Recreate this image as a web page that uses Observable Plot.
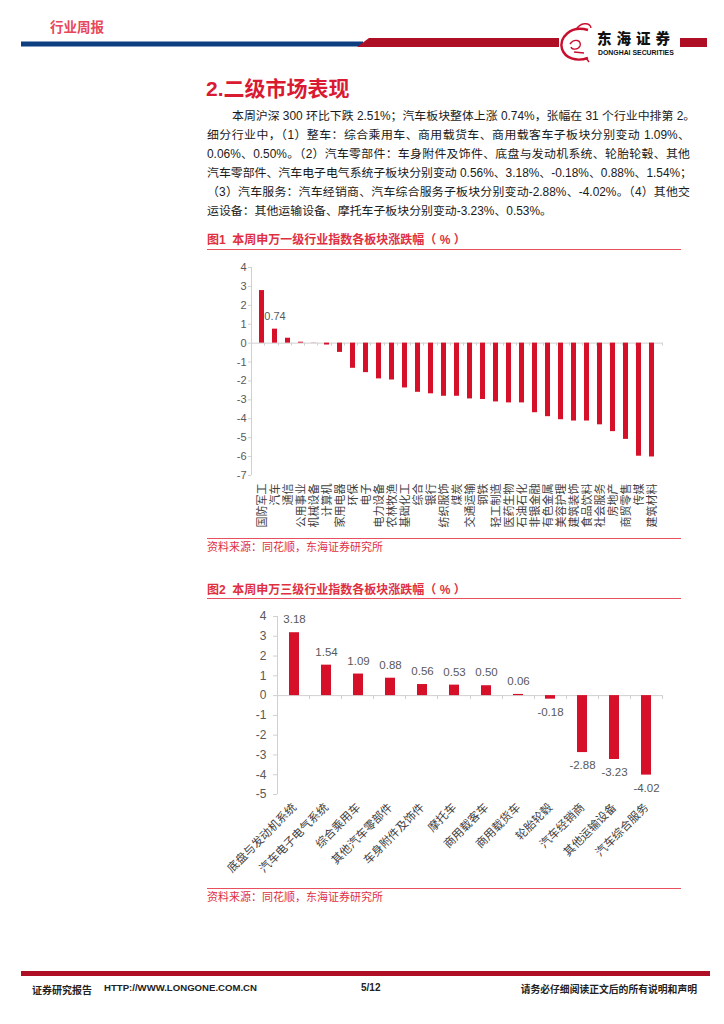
<!DOCTYPE html>
<html>
<head>
<meta charset="utf-8">
<script src="https://cdn.jsdelivr.net/npm/d3@7"></script>
<script src="https://cdn.jsdelivr.net/npm/@observablehq/plot@0.6"></script>
<style>
  html, body { margin: 0; padding: 0; background: #fff; }
  #page { position: relative; width: 724px; height: 1024px; overflow: hidden; font-family: "Liberation Sans", "Noto Sans CJK SC", sans-serif; }
  .abs { position: absolute; white-space: nowrap; }
  .para { position: absolute; left: 207px; width: 483px; font-size: 11.9px; color: #1a1a1a; font-family: "Liberation Sans", "Noto Sans CJK SC", sans-serif; }
  .para div { height: 19px; line-height: 19px; text-align: justify; text-align-last: justify; white-space: nowrap; }
  .para div.last { text-align-last: left; }
  .figtitle { position: absolute; left: 207px; font-size: 12px; font-weight: bold; color: #e0303f; white-space: nowrap; line-height: 1; }
  .src { position: absolute; left: 207px; font-size: 11px; color: #e0303f; white-space: nowrap; line-height: 1; }
  .rule { position: absolute; left: 207px; width: 474px; height: 1px; background: #e8505f; }
  .chart { position: absolute; left: 200px; }
</style>
</head>
<body>
<div id="page">
  <!-- header -->
  <div class="abs" style="left:50px; top:20px; font-size:13.5px; line-height:1; font-weight:bold; color:#e8475a; font-family:'Noto Sans CJK SC';">行业周报</div>
  <svg class="abs" style="left:0; top:0;" width="724" height="70">
    <rect x="21" y="41.5" width="342" height="5" fill="#0d3e80"></rect>
    <polygon points="357,47 369,38 559,38 559,47" fill="#ae0f25"></polygon>
    <rect x="680" y="38" width="27" height="9" fill="#ae0f25"></rect>
    <path d="M588,30 C570,25 559,38 562,49 C565,58 576,62 588,58" fill="none" stroke="#c8102e" stroke-width="2.4"></path>
    <path d="M576,30 C580,22 590,22 591,28 M570,44 C574,38 582,40 580,46 C578,50 572,50 571,47 M574,52 L584,53 M586,58 L589,62" fill="none" stroke="#c8102e" stroke-width="1.4"></path>
  </svg>
  <div class="abs" style="left:597px; top:31px; font-size:14.5px; line-height:1; font-weight:900; color:#111; font-family:'Noto Sans CJK SC'; letter-spacing:5px;">东海证券</div>
  <div class="abs" style="left:598px; top:50px; font-size:6.9px; line-height:1; font-weight:bold; color:#111;">DONGHAI SECURITIES</div>

  <!-- section heading -->
  <div class="abs" style="left:206px; top:72px; font-size:21px; font-weight:bold; color:#d91a32; font-family:'Liberation Sans','Noto Sans CJK SC';">2.二级市场表现</div>

  <div class="para" style="top:107px;">
    <div style="padding-left:25px;">本周沪深 300 环比下跌 2.51%；汽车板块整体上涨 0.74%，张幅在 31 个行业中排第 2。</div>
    <div>细分行业中，（1）整车：综合乘用车、商用载货车、商用载客车子板块分别变动 1.09%、</div>
    <div>0.06%、0.50%。（2）汽车零部件：车身附件及饰件、底盘与发动机系统、轮胎轮毂、其他</div>
    <div>汽车零部件、汽车电子电气系统子板块分别变动 0.56%、3.18%、-0.18%、0.88%、1.54%；</div>
    <div>（3）汽车服务：汽车经销商、汽车综合服务子板块分别变动-2.88%、-4.02%。（4）其他交</div>
    <div class="last">运设备：其他运输设备、摩托车子板块分别变动-3.23%、0.53%。</div>
  </div>

  <div class="figtitle" style="top:234px;">图1&nbsp;&nbsp;本周申万一级行业指数各板块涨跌幅（ % ）</div>
  <div class="rule" style="top:249px;"></div>
  <div class="chart" id="chart1" style="top:255px;"></div>
  <div class="rule" style="top:538px;"></div>
  <div class="src" style="top:542px;">资料来源：同花顺，东海证券研究所</div>

  <div class="figtitle" style="top:584px;">图2&nbsp;&nbsp;本周申万三级行业指数各板块涨跌幅（ % ）</div>
  <div class="rule" style="top:598px;"></div>
  <div class="chart" id="chart2" style="top:604px;"></div>
  <div class="rule" style="top:888px;"></div>
  <div class="src" style="top:892px;">资料来源：同花顺，东海证券研究所</div>

  <!-- footer -->
  <div class="abs" style="left:21px; top:971px; width:689px; height:5px; background:#ae0f25;"></div>
  <div class="abs" style="left:32px; top:982px; font-size:10px; font-weight:bold; color:#222; font-family:'Noto Sans CJK SC';">证券研究报告</div>
  <div class="abs" style="left:104px; top:982px; font-size:9.6px; font-weight:bold; color:#222;">HTTP://WWW.LONGONE.COM.CN</div>
  <div class="abs" style="left:361px; top:982px; font-size:10px; font-weight:bold; color:#222;">5/12</div>
  <div class="abs" style="right:27px; top:982px; font-size:9.8px; font-weight:bold; color:#222; font-family:'Noto Sans CJK SC';">请务必仔细阅读正文后的所有说明和声明</div>
</div>

<script>
// ---------- data ----------
const cats1 = ["国防军工","汽车","通信","公用事业","机械设备","计算机","家用电器","环保","电子","电力设备","农林牧渔","基础化工","综合","银行","纺织服饰","煤炭","交通运输","钢铁","轻工制造","医药生物","石油石化","非银金融","有色金属","美容护理","建筑装饰","食品饮料","社会服务","房地产","商贸零售","传媒","建筑材料"];
const vals1 = [2.78, 0.74, 0.26, 0.05, 0.01, -0.10, -0.49, -1.33, -1.56, -1.89, -1.95, -2.37, -2.60, -2.68, -2.81, -2.81, -2.95, -2.98, -3.11, -3.16, -3.16, -3.68, -3.89, -4.05, -4.12, -4.12, -4.32, -4.68, -5.09, -5.98, -6.02];
const yTicks1 = [4, 3, 2, 1, 0, -1, -2, -3, -4, -5, -6, -7];
const labelled1 = ["汽车"];

const cats2 = ["底盘与发动机系统","汽车电子电气系统","综合乘用车","其他汽车零部件","车身附件及饰件","摩托车","商用载客车","商用载货车","轮胎轮毂","汽车经销商","其他运输设备","汽车综合服务"];
const vals2 = [3.18, 1.54, 1.09, 0.88, 0.56, 0.53, 0.50, 0.06, -0.18, -2.88, -3.23, -4.02];
const yTicks2 = [4, 3, 2, 1, 0, -1, -2, -3, -4, -5];

const barColor = "#d7102a";
const axisColor = "#d0d0d0";
const textColor = "#595959";
const fontFam = "'Liberation Sans', 'Noto Sans CJK SC', sans-serif";

const data1 = cats1.map((c, i) => ({cat: c, val: vals1[i]}));
const data2 = cats2.map((c, i) => ({cat: c, val: vals2[i]}));

// vertical y-axis line + category boundary ticks on the zero line
function axisFrame(cats, yDomain, tickLen) {
  return (index, scales, values, dims) => {
    const g = d3.create("svg:g").attr("stroke", axisColor).attr("fill", "none");
    const x0 = dims.marginLeft, x1 = dims.width - dims.marginRight;
    const yTop = scales.y(yDomain[1]), yBot = scales.y(yDomain[0]), y0 = scales.y(0);
    g.append("line").attr("x1", x0 + 0.5).attr("x2", x0 + 0.5).attr("y1", yTop).attr("y2", yBot);
    const step = (x1 - x0) / cats.length;
    for (let k = 1; k <= cats.length; k++) {
      const xx = Math.round(x0 + k * step) + 0.5;
      g.append("line").attr("x1", xx).attr("x2", xx).attr("y1", y0).attr("y2", y0 + tickLen);
    }
    return g.node();
  };
}

// ---------- chart 1 ----------
const chart1 = Plot.plot({
  width: 480, height: 282,
  marginLeft: 51, marginRight: 18, marginTop: 12, marginBottom: 62,
  style: {fontFamily: fontFam, fontSize: "11px", background: "transparent", overflow: "visible"},
  x: {domain: cats1, paddingInner: 0.64, paddingOuter: 0.32, label: null, axis: null},
  y: {domain: [-7, 4], label: null, axis: null},
  marks: [
    Plot.axisY({ticks: yTicks1, tickSize: 3, tickPadding: 2, stroke: axisColor, fill: textColor, tickFormat: d => String(d), fontSize: 11, label: null}),
    Plot.axisX({anchor: "bottom", tickSize: 0, tickPadding: 8, tickRotate: -90, fill: "#404040", fontSize: 11, label: null}),
    Plot.ruleY([0], {stroke: axisColor}),
    axisFrame(cats1, [-7, 4], 3),
    Plot.barY(data1, {x: "cat", y: "val", fill: barColor}),
    Plot.text(data1.filter(d => labelled1.includes(d.cat)), {x: "cat", y: "val", text: d => d.val.toFixed(2), dy: -13, fill: textColor, fontSize: 11})
  ]
});
document.getElementById("chart1").append(chart1);

// ---------- chart 2 ----------
const chart2 = Plot.plot({
  width: 480, height: 282,
  marginLeft: 77, marginRight: 18, marginTop: 12, marginBottom: 92,
  style: {fontFamily: fontFam, fontSize: "11.5px", background: "transparent", overflow: "visible"},
  x: {domain: cats2, paddingInner: 0.69, paddingOuter: 0.345, label: null, axis: null},
  y: {domain: [-5, 4], label: null, axis: null},
  marks: [
    Plot.axisY({ticks: yTicks2, tickSize: 4, tickPadding: 7, stroke: axisColor, fill: textColor, tickFormat: d => String(d), fontSize: 12, label: null}),
    Plot.axisX({anchor: "bottom", tickSize: 0, tickPadding: 11, tickRotate: -45, fill: "#404040", fontSize: 11.5, label: null}),
    Plot.ruleY([0], {stroke: axisColor}),
    axisFrame(cats2, [-5, 4], 4),
    Plot.barY(data2, {x: "cat", y: "val", fill: barColor}),
    Plot.text(data2.filter(d => d.val >= 0), {x: "cat", y: "val", text: d => d.val.toFixed(2), dy: -13, fill: textColor, fontSize: 11.5}),
    Plot.text(data2.filter(d => d.val < 0), {x: "cat", y: "val", text: d => d.val.toFixed(2), dy: 13, fill: textColor, fontSize: 11.5})
  ]
});
document.getElementById("chart2").append(chart2);
</script>
</body>
</html>
